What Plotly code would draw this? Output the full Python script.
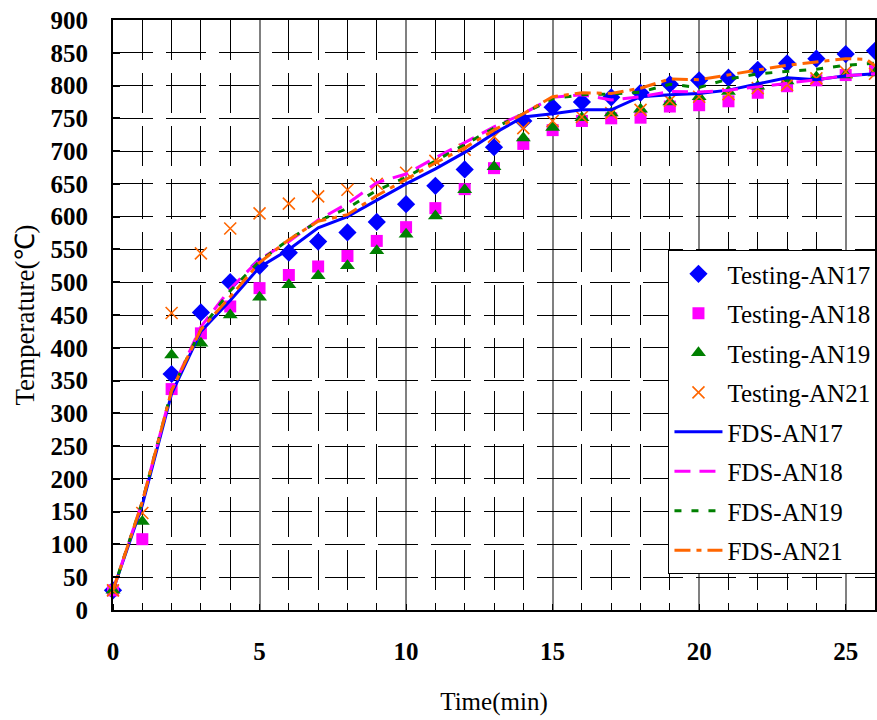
import plotly.graph_objects as go

# ---------------- data ----------------
t_test = list(range(0, 27))
test_an17 = [30, None, 360, 454, 500, 525, 545, 562, 576, 592, 619, 647, 672, 706, 746, 767, 775, 782, 789, 802, 808, 812, 824, 834, 841, 848, 853]
test_an18 = [30, 108, 337, 422, 463, 491, 511, 524, 540, 563, 584, 613, 642, 674, 711, 732, 746, 750, 751, 768, 770, 776, 789, 799, 808, 816, 824]
test_an19 = [30, 135, 389, 407, 450, 477, 496, 510, 525, 548, 573, 601, 641, 676, 720, 736, 751, 758, 764, 775, 783, 791, 799, 807, 813, 816, 819]
test_an21 = [30, 148, 453, 544, 582, 605, 620, 631, 641, 650, 667, 685, 702, 722, 735, 746, 752, 758, 763, 777, 783, 787, 796, 801, 811, 821, 818]

t_fds = list(range(0, 27))
fds_an17 = [30, 160, 330, 425, 472, 523, 550, 583, 600, 625, 650, 673, 698, 727, 752, 757, 763, 763, 783, 786, 788, 793, 802, 812, 809, 815, 818]
fds_an18 = [30, 165, 335, 432, 490, 535, 562, 595, 620, 652, 665, 690, 713, 737, 757, 782, 786, 778, 783, 791, 790, 793, 798, 803, 809, 815, 818]
fds_an19 = [30, 165, 335, 428, 487, 532, 565, 593, 613, 640, 660, 685, 710, 735, 757, 780, 786, 787, 790, 802, 797, 810, 818, 821, 825, 831, 834]
t_fds21 = [0, 1, 2, 3, 4, 5, 6, 7, 8, 9, 10, 11, 12, 13, 14, 15, 16, 17, 18, 19, 20, 21, 22, 23, 24, 25, 25.7, 26]
fds_an21 = [30, 165, 335, 428, 478, 530, 565, 593, 603, 632, 657, 682, 705, 732, 757, 783, 789, 788, 796, 810, 809, 816, 824, 831, 836, 841, 840, 830]

x_ticks = [0, 5, 10, 15, 20, 25]
y_ticks = list(range(0, 901, 50))

BLUE = "#0000FF"
MAG = "#FF00FF"
GREEN = "#008000"
ORANGE = "#FF6600"
SERIF = "Liberation Serif, Times New Roman, serif"

fig = go.Figure()

markers = [
    ("Testing-AN17", test_an17, dict(symbol="diamond", size=14, color=BLUE)),
    ("Testing-AN18", test_an18, dict(symbol="square", size=12, color=MAG)),
    ("Testing-AN19", test_an19, dict(symbol="triangle-up", size=13, color=GREEN)),
    ("Testing-AN21", test_an21, dict(symbol="x-thin", size=12, color=ORANGE,
                                     line=dict(color=ORANGE, width=1.6))),
]
for i, (name, ys, mk) in enumerate(markers):
    fig.add_trace(go.Scatter(x=t_test, y=ys, mode="markers", name=name, marker=mk,
                             cliponaxis=False, legendgroup=f"g{i}"))

lines = [
    ("FDS-AN17", t_fds, fds_an17, dict(color=BLUE, width=3, dash="solid")),
    ("FDS-AN18", t_fds, fds_an18, dict(color=MAG, width=3, dash="16px,9px")),
    ("FDS-AN19", t_fds, fds_an19, dict(color=GREEN, width=3, dash="7px,10px")),
    ("FDS-AN21", t_fds21, fds_an21, dict(color=ORANGE, width=3, dash="16px,6px,5px,6px")),
]
for i, (name, xs, ys, ln) in enumerate(lines):
    fig.add_trace(go.Scatter(x=xs, y=ys, mode="lines", name=name, line=ln,
                             legendgroup=f"h{i}"))

fig.update_layout(
    width=877, height=720,
    margin=dict(l=113, r=1, t=20, b=110),
    paper_bgcolor="white", plot_bgcolor="white",
    font=dict(family=SERIF, color="black"),
    showlegend=True,
    legend=dict(
        x=0.728, y=0.61, xanchor="left", yanchor="top",
        bgcolor="white", bordercolor="black", borderwidth=1,
        font=dict(family=SERIF, size=25, color="black"),
        traceorder="grouped", tracegroupgap=4, itemwidth=48,
    ),
)

fig.update_xaxes(
    range=[0, 26], tickvals=x_ticks, ticktext=[str(v) for v in x_ticks],
    showline=True, linecolor="black", linewidth=2, mirror=True,
    showgrid=True, gridcolor="#808080", gridwidth=2,
    ticks="", ticklabelstandoff=18,
    tickfont=dict(family=SERIF, size=25, color="black", weight="bold"),
    zeroline=False,
    minor=dict(dtick=1, showgrid=True, gridcolor="black", gridwidth=1.3,
               griddash="40px,13px", ticks="inside", ticklen=6, tickcolor="black"),
    title=dict(text="Time(min)", font=dict(family=SERIF, size=25, color="black"), standoff=28),
)
fig.update_yaxes(
    range=[0, 900], tickvals=y_ticks, ticktext=[str(v) for v in y_ticks],
    showline=True, linecolor="black", linewidth=2, mirror=True,
    showgrid=True, gridcolor="black", gridwidth=1.3, griddash="40px,13px",
    ticks="inside", ticklen=7, tickwidth=1.5, tickcolor="black", ticklabelstandoff=18,
    tickfont=dict(family=SERIF, size=25, color="black", weight="bold"),
    zeroline=False,
    title=dict(text="Temperature(℃)", font=dict(family=SERIF, size=27, color="black"), standoff=8),
)

fig.write_html("out.html")
